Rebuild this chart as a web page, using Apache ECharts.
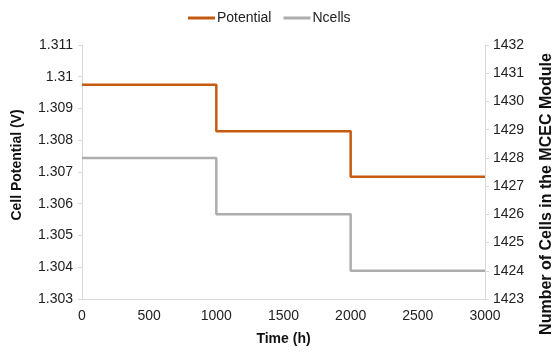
<!DOCTYPE html>
<html><head><meta charset="utf-8">
<script src="https://cdn.jsdelivr.net/npm/echarts@6/dist/echarts.min.js"></script>
<style>html,body{margin:0;padding:0;background:#fff}#c{width:553px;height:356px}</style>
</head><body><div id="c"></div>
<script>
const timeH = [0, 1000, 2000, 3000];
const potential = [1.30975, 1.30828, 1.30685, 1.30685];
const ncells = [1428, 1426, 1424, 1424];

const font = 'Liberation Sans, Arial, sans-serif';
const chart = echarts.init(document.getElementById('c'));
chart.setOption({
  animation: false,
  legend: {
    top: 6, left: 183, itemWidth: 27, itemHeight: 3, itemGap: 12,
    icon: 'rect',
    textStyle: {fontFamily: font, fontSize: 14, color: '#222', padding: [0, 0, 0, -3]},
    data: ['Potential', 'Ncells']
  },
  grid: {left: 82, right: 68, top: 45, bottom: 57, containLabel: false, outerBoundsMode: 'none'},
  xAxis: {
    type: 'value', min: 0, max: 3000, interval: 500,
    name: 'Time (h)', nameLocation: 'middle', nameGap: 33,
    nameTextStyle: {fontFamily: font, fontSize: 14, fontWeight: 'bold', color: '#111'},
    axisLine: {lineStyle: {color: '#d9d9d9'}},
    axisTick: {show: false},
    splitLine: {show: false},
    axisLabel: {fontFamily: font, fontSize: 14, color: '#222', margin: 10,
      formatter: v => String(v)}
  },
  yAxis: [{
    type: 'value', min: 1.303, max: 1.311, interval: 0.001,
    name: 'Cell Potential (V)', nameLocation: 'middle', nameGap: 58, nameRotate: 90,
    nameTextStyle: {fontFamily: font, fontSize: 14, fontWeight: 'bold', color: '#111', padding: [0, 0, 0, 14]},
    axisLine: {show: true, lineStyle: {color: '#d9d9d9'}},
    axisTick: {show: true, length: 4, lineStyle: {color: '#d9d9d9'}},
    splitLine: {show: false},
    axisLabel: {fontFamily: font, fontSize: 14, color: '#222', margin: 9,
      formatter: v => String(parseFloat(v.toFixed(3)))}
  }, {
    type: 'value', min: 1423, max: 1432, interval: 1, position: 'right',
    name: 'Number of Cells in the MCEC Module', nameLocation: 'middle', nameGap: 54, nameRotate: 90,
    nameTextStyle: {fontFamily: font, fontSize: 16, fontWeight: 'bold', color: '#111', padding: [0, 44, 0, 0]},
    axisLine: {show: true, lineStyle: {color: '#d9d9d9'}},
    axisTick: {show: true, length: 4, lineStyle: {color: '#d9d9d9'}},
    splitLine: {show: false},
    axisLabel: {fontFamily: font, fontSize: 14, color: '#222', margin: 8,
      formatter: v => String(v)}
  }],
  series: [{
    name: 'Potential', type: 'line', step: 'end', yAxisIndex: 0,
    data: timeH.map((t, i) => [t, potential[i]]),
    showSymbol: false, symbol: 'none',
    lineStyle: {color: '#C55A11', width: 2.5}, itemStyle: {color: '#C55A11'}
  }, {
    name: 'Ncells', type: 'line', step: 'end', yAxisIndex: 1,
    data: timeH.map((t, i) => [t, ncells[i]]),
    showSymbol: false, symbol: 'none',
    lineStyle: {color: '#ADADAD', width: 2.5}, itemStyle: {color: '#ADADAD'}
  }]
});
</script></body></html>
